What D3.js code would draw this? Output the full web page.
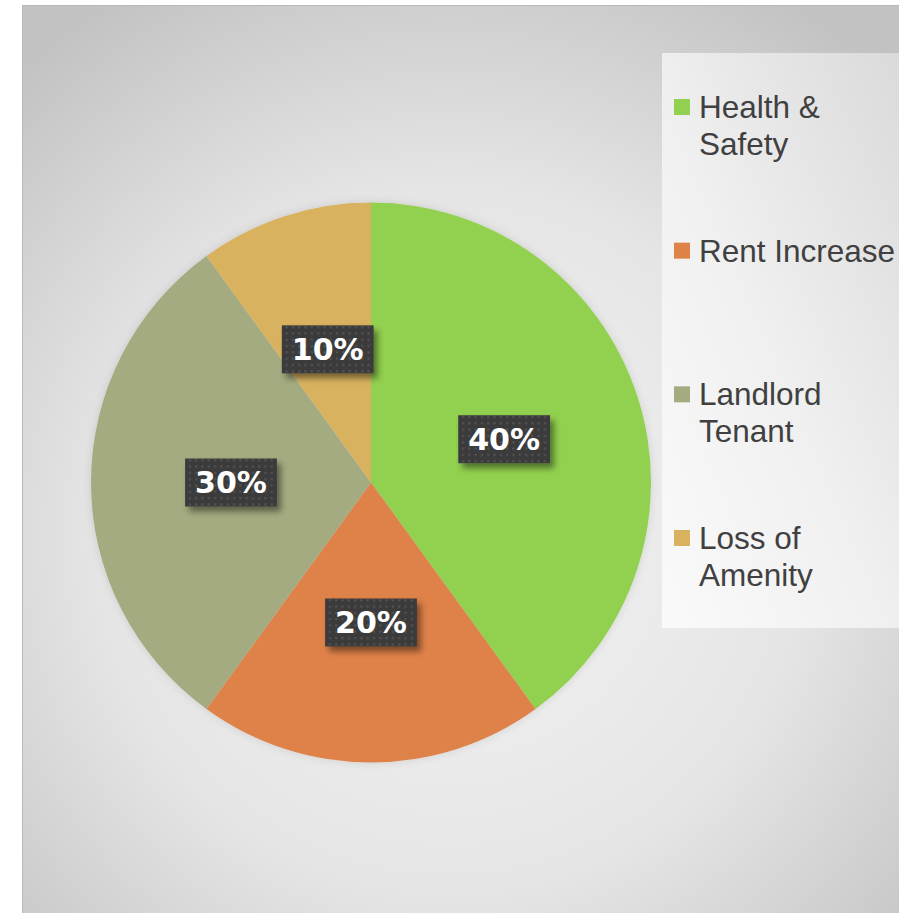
<!DOCTYPE html>
<html>
<head>
<meta charset="utf-8">
<script src="https://cdn.jsdelivr.net/npm/d3@7/dist/d3.min.js"></script>
<style>
  html, body { margin: 0; padding: 0; background: #ffffff; }
  svg { display: block; }
</style>
</head>
<body>
<svg id="chart" width="899" height="913"></svg>
<script>
// ---- data ----
const categories = ["Health & Safety", "Rent Increase", "Landlord Tenant", "Loss of Amenity"];
const values = [40, 20, 30, 10];
const legendLines = [["Health &", "Safety"], ["Rent Increase"], ["Landlord", "Tenant"], ["Loss of", "Amenity"]];
const sliceColors = ["#92d050", "#df8248", "#a4ab80", "#d9b25f"];

// ---- layout ----
const W = 899, H = 913;
const cx = 371, cy = 482.5, R = 280;

const svg = d3.select("#chart");
const defs = svg.append("defs");

// chart area background gradient
const bg = defs.append("radialGradient").attr("id", "bgGrad")
  .attr("gradientUnits", "userSpaceOnUse")
  .attr("cx", 450).attr("cy", 540).attr("r", 640);
bg.append("stop").attr("offset", 0).attr("stop-color", "#f4f4f4");
bg.append("stop").attr("offset", 0.55).attr("stop-color", "#e5e5e5");
bg.append("stop").attr("offset", 1).attr("stop-color", "#c2c2c2");

// legend panel gradient
const lg = defs.append("linearGradient").attr("id", "legGrad")
  .attr("x1", 0).attr("y1", 1).attr("x2", 1).attr("y2", 0);
lg.append("stop").attr("offset", 0).attr("stop-color", "#fafafa");
lg.append("stop").attr("offset", 0.45).attr("stop-color", "#f0f0f0");
lg.append("stop").attr("offset", 1).attr("stop-color", "#d9d9d9");

// dotted pattern for label boxes
const pat = defs.append("pattern").attr("id", "dots")
  .attr("patternUnits", "userSpaceOnUse").attr("width", 6.3).attr("height", 6.3);
pat.append("rect").attr("width", 6.3).attr("height", 6.3).attr("fill", "#3b3b3b");
pat.append("rect").attr("x", 2).attr("y", 2).attr("width", 2).attr("height", 2).attr("fill", "#565656");

// drop shadow for label boxes
const sh = defs.append("filter").attr("id", "boxShadow")
  .attr("x", "-30%").attr("y", "-30%").attr("width", "170%").attr("height", "170%");
sh.append("feDropShadow").attr("dx", 4).attr("dy", 5).attr("stdDeviation", 3)
  .attr("flood-color", "#000").attr("flood-opacity", 0.45);

// soft pie shadow
const ps = defs.append("filter").attr("id", "pieShadow")
  .attr("x", "-10%").attr("y", "-10%").attr("width", "120%").attr("height", "120%");
ps.append("feDropShadow").attr("dx", 0).attr("dy", 0).attr("stdDeviation", 4)
  .attr("flood-color", "#000").attr("flood-opacity", 0.12);

// chart area
svg.append("rect")
  .attr("x", 22.5).attr("y", 5.5).attr("width", W + 10).attr("height", H + 10)
  .attr("fill", "url(#bgGrad)").attr("stroke", "#b9b9b9").attr("stroke-width", 1);

// pie
const pie = d3.pie().sort(null).value(d => d)(values);
const arc = d3.arc().innerRadius(0).outerRadius(R);
const total = d3.sum(values);
const pct = d3.format(".0%");

const g = svg.append("g").attr("transform", `translate(${cx},${cy})`);
g.append("g").attr("filter", "url(#pieShadow)")
  .selectAll("path").data(pie).join("path")
  .attr("d", arc)
  .attr("fill", (d, i) => sliceColors[i]);

// data labels
const labels = g.selectAll("g.lbl").data(pie).join("g").attr("class", "lbl")
  .attr("transform", d => `translate(${arc.centroid(d)})`);

labels.each(function (d) {
  const sel = d3.select(this);
  const rect = sel.append("rect").attr("fill", "url(#dots)").attr("filter", "url(#boxShadow)");
  const t = sel.append("text")
    .attr("text-anchor", "middle")
    .attr("dy", "0.36em")
    .attr("fill", "#ffffff")
    .attr("font-family", "'DejaVu Sans', sans-serif")
    .attr("font-weight", "bold")
    .attr("font-size", 30)
    .text(pct(d.data / total));
  const bb = t.node().getBBox();
  const w = bb.width + 20, h = 48;
  rect.attr("x", -w / 2).attr("y", -h / 2).attr("width", w).attr("height", h);
});

// legend panel
svg.append("rect")
  .attr("x", 662).attr("y", 53).attr("width", 250).attr("height", 575)
  .attr("fill", "url(#legGrad)");

const ly = d3.scaleLinear().domain([0, 3]).range([118, 549]);
const leg = svg.append("g").selectAll("g").data(categories).join("g")
  .attr("transform", (d, i) => `translate(0,${ly(i)})`);

leg.append("rect")
  .attr("x", 674).attr("y", -19).attr("width", 16).attr("height", 16)
  .attr("fill", (d, i) => sliceColors[i]);

leg.append("text")
  .attr("x", 699)
  .attr("font-family", "'Liberation Sans', Arial, sans-serif")
  .attr("font-size", 31.5)
  .attr("fill", "#404040")
  .selectAll("tspan").data((d, i) => legendLines[i]).join("tspan")
  .attr("x", 699)
  .attr("y", (d, j) => j * 37)
  .text(d => d);
</script>
</body>
</html>
